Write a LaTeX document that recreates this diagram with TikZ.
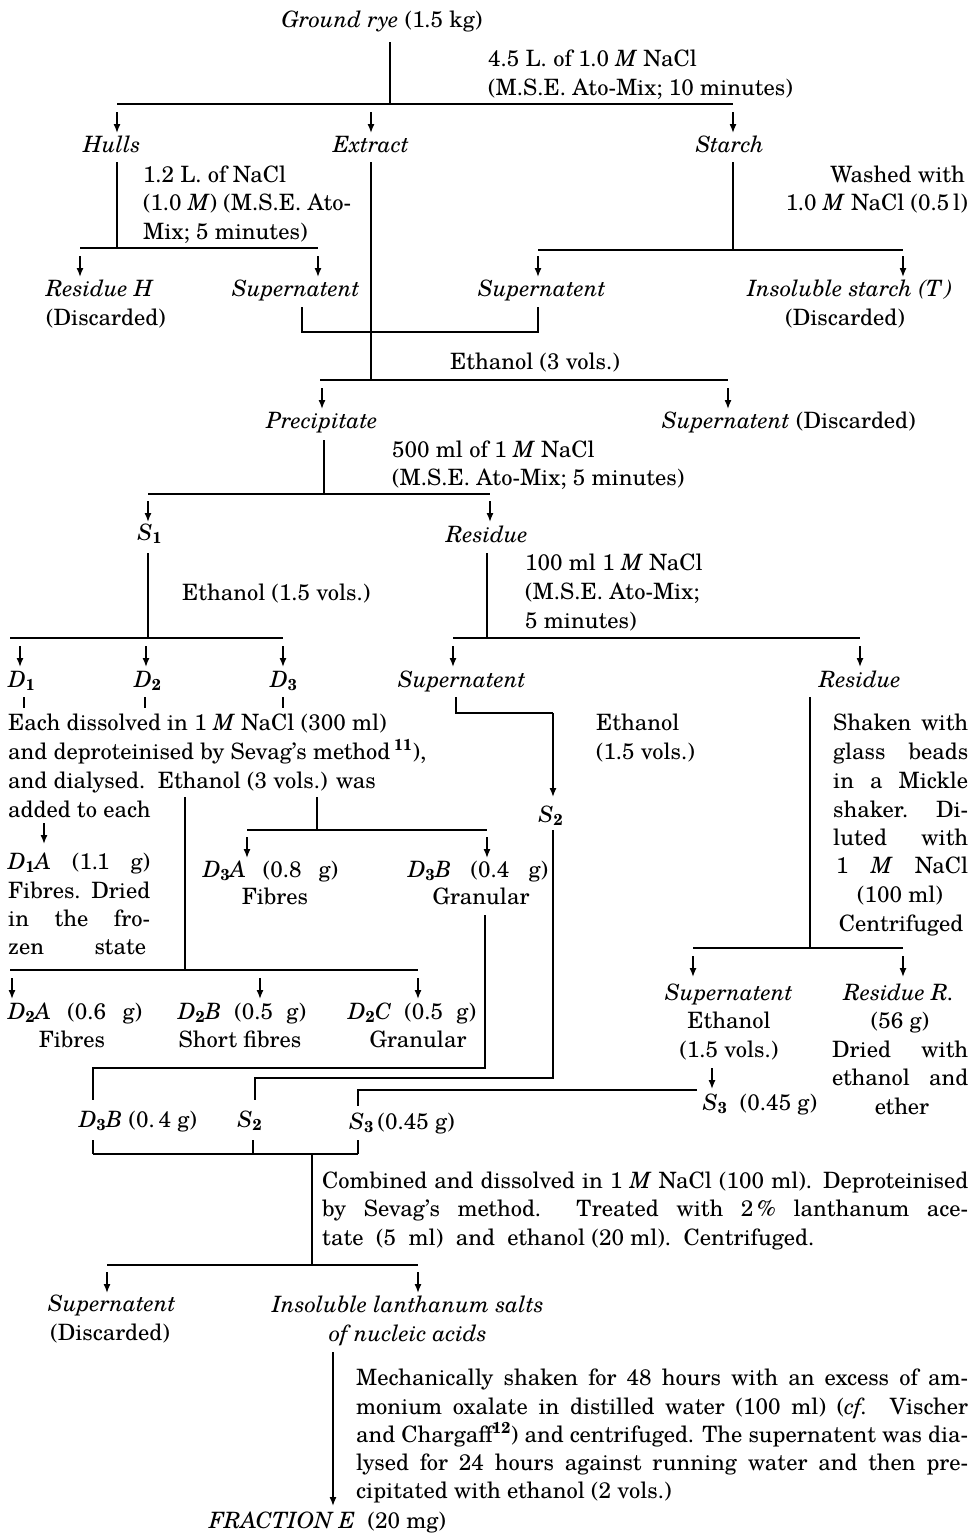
\documentclass[tikz,border=0pt]{standalone}
\usepackage{fix-cm}
\usepackage{fontspec}
\setmainfont{TeX Gyre Schola}
\usetikzlibrary{arrows.meta}
\newcommand{\dfont}{\fontsize{22.5}{28.7}\selectfont}
\newcommand{\jl}[2]{\makebox[#1][s]{#2}}
\newcommand{\sbs}[2]{\textit{#1}\textsubscript{\textbf{#2}}}
\tikzset{
  lbl/.style={inner sep=0pt, anchor=base, font=\dfont},
  lw/.style={inner sep=0pt, anchor=base west, font=\dfont},
  le/.style={inner sep=0pt, anchor=base east, font=\dfont},
  ln/.style={line width=1.3pt},
  arr/.style={line width=1.4pt, -{Latex[length=9pt,width=7pt]}},
}
\begin{document}
\begin{tikzpicture}[x=1pt,y=-1pt]
\useasboundingbox (0,0) rectangle (972,1534);
% ---------- top
\node[lbl] (gr) at (382,27) {\textit{Ground rye} (1.5 kg)};
\node[lw] (tA) at (488,66) {4.5 L. of 1.0 \textit{M} NaCl};
\node[lw] (tB) at (488,95) {(M.S.E. Ato-Mix; 10 minutes)};
\draw[ln] (390,42) -- (390,104);
\draw[ln] (117,104) -- (733,104);
\node[lbl] (hulls) at (112,152) {\textit{Hulls}};
\node[lbl] (extract) at (371,152) {\textit{Extract}};
\node[lbl] (starch) at (730,152) {\textit{Starch}};
\foreach \x in {117,371,733} \draw[arr] (\x,112) -- (\x,133);
% ---------- hulls
\node[lw] (hA) at (143,182) {1.2 L. of NaCl};
\node[lw] (hB) at (143,210) {(1.0 \textit{M}) (M.S.E. Ato-};
\node[lw] (hC) at (143,239) {Mix; 5 minutes)};
\draw[ln] (117,162) -- (117,248);
\draw[ln] (80,248) -- (318,248);
\foreach \x in {80,318} \draw[arr] (\x,256) -- (\x,277);
\node[lw] (resH) at (46,296) {\textit{Residue H}};
\node[lw] (discH) at (46,325) {(Discarded)};
\node[lbl] (supA) at (296,296) {\textit{Supernatent}};
% ---------- extract
\draw[ln] (371,162) -- (371,332);
% ---------- starch
\node[le] (wA) at (965,182) {Washed with};
\node[le] (wB) at (968,210) {1.0 \textit{M} NaCl (0.5\,l)};
\draw[ln] (733,162) -- (733,250);
\draw[ln] (538,250) -- (903,250);
\foreach \x in {538,903} \draw[arr] (\x,256) -- (\x,277);
\node[lbl] (supB) at (542,296) {\textit{Supernatent}};
\node[lbl] (insT) at (850,296) {\textit{Insoluble\ starch\ (T\,)}};
\node[lbl] (discT) at (845,325) {(Discarded)};
% ---------- combine
\draw[ln] (302,307) -- (302,332) -- (538,332) -- (538,307);
\draw[ln] (371,332) -- (371,380);
\node[lbl] (eth3) at (535,369) {Ethanol (3 vols.)};
\draw[ln] (320,380) -- (728,380);
\foreach \x in {322,728} \draw[arr] (\x,388) -- (\x,409);
\node[lbl] (precip) at (322,428) {\textit{Precipitate}};
\node[lw] (supD) at (662,428) {\textit{Supernatent} (Discarded)};
% ---------- precipitate
\draw[ln] (324,440) -- (324,494);
\node[lw] (mA) at (392,457) {500 ml of 1 \textit{M} NaCl};
\node[lw] (mB) at (392,485) {(M.S.E. Ato-Mix; 5 minutes)};
\draw[ln] (148,494) -- (490,494);
\foreach \x in {148,490} \draw[arr] (\x,501) -- (\x,522);
\node[lbl] (s1) at (150,540) {\sbs{S}{1}};
\node[lbl] (resA) at (487,542) {\textit{Residue}};
% ---------- S1
\draw[ln] (148,553) -- (148,638);
\node[lw] (eth15) at (182,600) {Ethanol (1.5 vols.)};
\draw[ln] (10,638) -- (283,638);
\foreach \x in {20,146,283} \draw[arr] (\x,646) -- (\x,667);
\node[lbl] (d1) at (22,687) {\sbs{D}{1}};
\node[lbl] (d2) at (148,687) {\sbs{D}{2}};
\node[lbl] (d3) at (284,687) {\sbs{D}{3}};
\foreach \x in {24,145,283} \draw[ln] (\x,697) -- (\x,708);
% ---------- residue
\draw[ln] (487,553) -- (487,638);
\node[lw] (rA) at (525,570) {100 ml 1 \textit{M} NaCl};
\node[lw] (rB) at (525,599) {(M.S.E. Ato-Mix;};
\node[lw] (rC) at (525,628) {5 minutes)};
\draw[ln] (453,638) -- (860,638);
\foreach \x in {453,860} \draw[arr] (\x,646) -- (\x,667);
\node[lbl] (supC) at (462,687) {\textit{Supernatent}};
\node[lbl] (resB) at (860,687) {\textit{Residue}};
% ---------- D block
\node[lw] (eA) at (8,730) {Each dissolved in 1 \textit{M} NaCl (300 ml)};
\node[lw] (eB) at (8,759) {and deproteinised by Sevag's method\,\textsuperscript{\textbf{11}}),};
\node[lw] (eC) at (8,788) {and dialysed.\ \ Ethanol (3 vols.) was};
\node[lw] (eD) at (8,817) {added to each};
\draw[arr] (44,823) -- (44,844);
\node[lw] (d1a) at (8,869) {\jl{142pt}{\sbs{D}{1}\textit{A} (1.1 g)}};
\node[lw] (d1b) at (8,898) {\jl{142pt}{Fibres. Dried}};
\node[lw] (d1c) at (8,926) {\jl{142pt}{in the fro-}};
\node[lw] (d1d) at (8,954) {\jl{138pt}{zen state}};
% D3
\draw[ln] (317,797) -- (317,830);
\draw[ln] (247,830) -- (487,830);
\foreach \x in {247,487} \draw[arr] (\x,837) -- (\x,858);
\node[lw] (d3a) at (203,877) {\jl{135pt}{\sbs{D}{3}\textit{A} (0.8 g)}};
\node[lbl] (d3af) at (275,904) {Fibres};
\node[lw] (d3b) at (408,877) {\jl{140pt}{\sbs{D}{3}\textit{B} (0.4 g)}};
\node[lbl] (d3bg) at (481,904) {Granular};
% D2
\draw[ln] (185,797) -- (185,970);
\draw[ln] (10,970) -- (418,970);
\foreach \x in {12,260,418} \draw[arr] (\x,978) -- (\x,999);
\node[lw] (d2a) at (8,1019) {\jl{134pt}{\sbs{D}{2}\textit{A} (0.6 g)}};
\node[lbl] (d2af) at (72,1047) {Fibres};
\node[lbl] (d2b) at (242,1019) {\jl{128pt}{\sbs{D}{2}\textit{B} (0.5 g)}};
\node[lbl] (d2bf) at (240,1047) {Short fibres};
\node[lbl] (d2c) at (412,1019) {\jl{128pt}{\sbs{D}{2}\textit{C} (0.5 g)}};
\node[lbl] (d2cg) at (418,1047) {Granular};
% D3B line
\draw[ln] (485,915) -- (485,1068) -- (93,1068) -- (93,1100);
% ---------- supernatent -> S2
\draw[ln] (456,697) -- (456,713) -- (553,713);
\draw[arr] (553,713) -- (553,797);
\node[lbl] (s2) at (551,822) {\sbs{S}{2}};
\node[lw] (esA) at (596,730) {Ethanol};
\node[lw] (esB) at (596,759) {(1.5 vols.)};
\draw[ln] (553,830) -- (553,1078) -- (255,1078) -- (255,1100);
% ---------- residue right
\draw[ln] (810,697) -- (810,948);
\node[lw] (shA) at (833,730) {\jl{135pt}{Shaken with}};
\node[lw] (shB) at (833,759) {\jl{135pt}{glass beads}};
\node[lw] (shC) at (833,788) {\jl{135pt}{in a Mickle}};
\node[lw] (shD) at (833,817) {\jl{135pt}{shaker. Di-}};
\node[lw] (shE) at (833,845) {\jl{135pt}{luted with}};
\node[lw] (shF) at (836,873) {\jl{132pt}{1 \textit{M} NaCl}};
\node[lbl] (shG) at (900,902) {(100 ml)};
\node[lbl] (shH) at (901,931) {Centrifuged};
\draw[ln] (693,948) -- (903,948);
\foreach \x in {693,903} \draw[arr] (\x,956) -- (\x,977);
\node[lbl] (supR) at (729,1000) {\textit{Supernatent}};
\node[lbl] (resR) at (899,1000) {\textit{Residue R.}};
\node[lbl] (ethR) at (729,1028) {Ethanol};
\node[lbl] (ethRv) at (729,1057) {(1.5 vols.)};
\node[lbl] (g56) at (900,1028) {(56 g)};
\node[lw] (drA) at (832,1057) {\jl{136pt}{Dried with}};
\node[lw] (drB) at (832,1085) {\jl{136pt}{ethanol and}};
\node[lbl] (drC) at (902,1114) {ether};
\draw[arr] (712,1068) -- (712,1089);
\node[lbl] (s3) at (760,1110) {\sbs{S}{3}\ \ (0.45 g)};
\draw[ln] (697,1090) -- (358,1090) -- (358,1106);
% ---------- combined
\node[lbl] (d3bc) at (138,1127) {\sbs{D}{3}\textit{B} (0.\,4 g)};
\node[lbl] (s2c) at (250,1127) {\sbs{S}{2}};
\node[lbl] (s3c) at (402,1129) {\sbs{S}{3}\,(0.45 g)};
\foreach \x in {93,253,358} \draw[ln] (\x,1140) -- (\x,1154);
\draw[ln] (93,1154) -- (358,1154);
\draw[ln] (312,1154) -- (312,1265);
\node[lw] (cA) at (322,1188) {\jl{646pt}{Combined and dissolved in 1 \textit{M} NaCl (100 ml). Deproteinised}};
\node[lw] (cB) at (322,1216) {\jl{646pt}{by Sevag's method.\ \ Treated with 2\,\% lanthanum ace-}};
\node[lw] (cC) at (322,1245) {tate\ \ (5\ \ ml)\ \ and\ \ ethanol (20 ml).\ \ Centrifuged.};
\draw[ln] (107,1265) -- (418,1265);
\foreach \x in {107,418} \draw[arr] (\x,1272) -- (\x,1293);
\node[lbl] (supF) at (112,1311) {\textit{Supernatent}};
\node[lbl] (discF) at (110,1340) {(Discarded)};
\node[lbl] (insL) at (408,1312) {\textit{Insoluble lanthanum salts}};
\node[lbl] (insL2) at (408,1341) {\textit{of nucleic acids}};
% ---------- final
\draw[arr] (333,1352) -- (333,1506);
\node[lw] (mcA) at (356,1385) {\jl{612pt}{Mechanically shaken for 48 hours with an excess of am-}};
\node[lw] (mcB) at (356,1414) {\jl{612pt}{monium oxalate in distilled water (100 ml) (\textit{cf.} Vischer}};
\node[lw] (mcC) at (356,1442) {\jl{612pt}{and Chargaff\textsuperscript{\textbf{12}}) and centrifuged. The supernatent was dia-}};
\node[lw] (mcD) at (356,1470) {\jl{612pt}{lysed for 24 hours against running water and then pre-}};
\node[lw] (mcE) at (356,1498) {cipitated with ethanol (2 vols.)};
\node[lw] (frac) at (209,1528) {\textit{FRACTION\ E}\ \ (20 mg)};
\end{tikzpicture}
\end{document}
